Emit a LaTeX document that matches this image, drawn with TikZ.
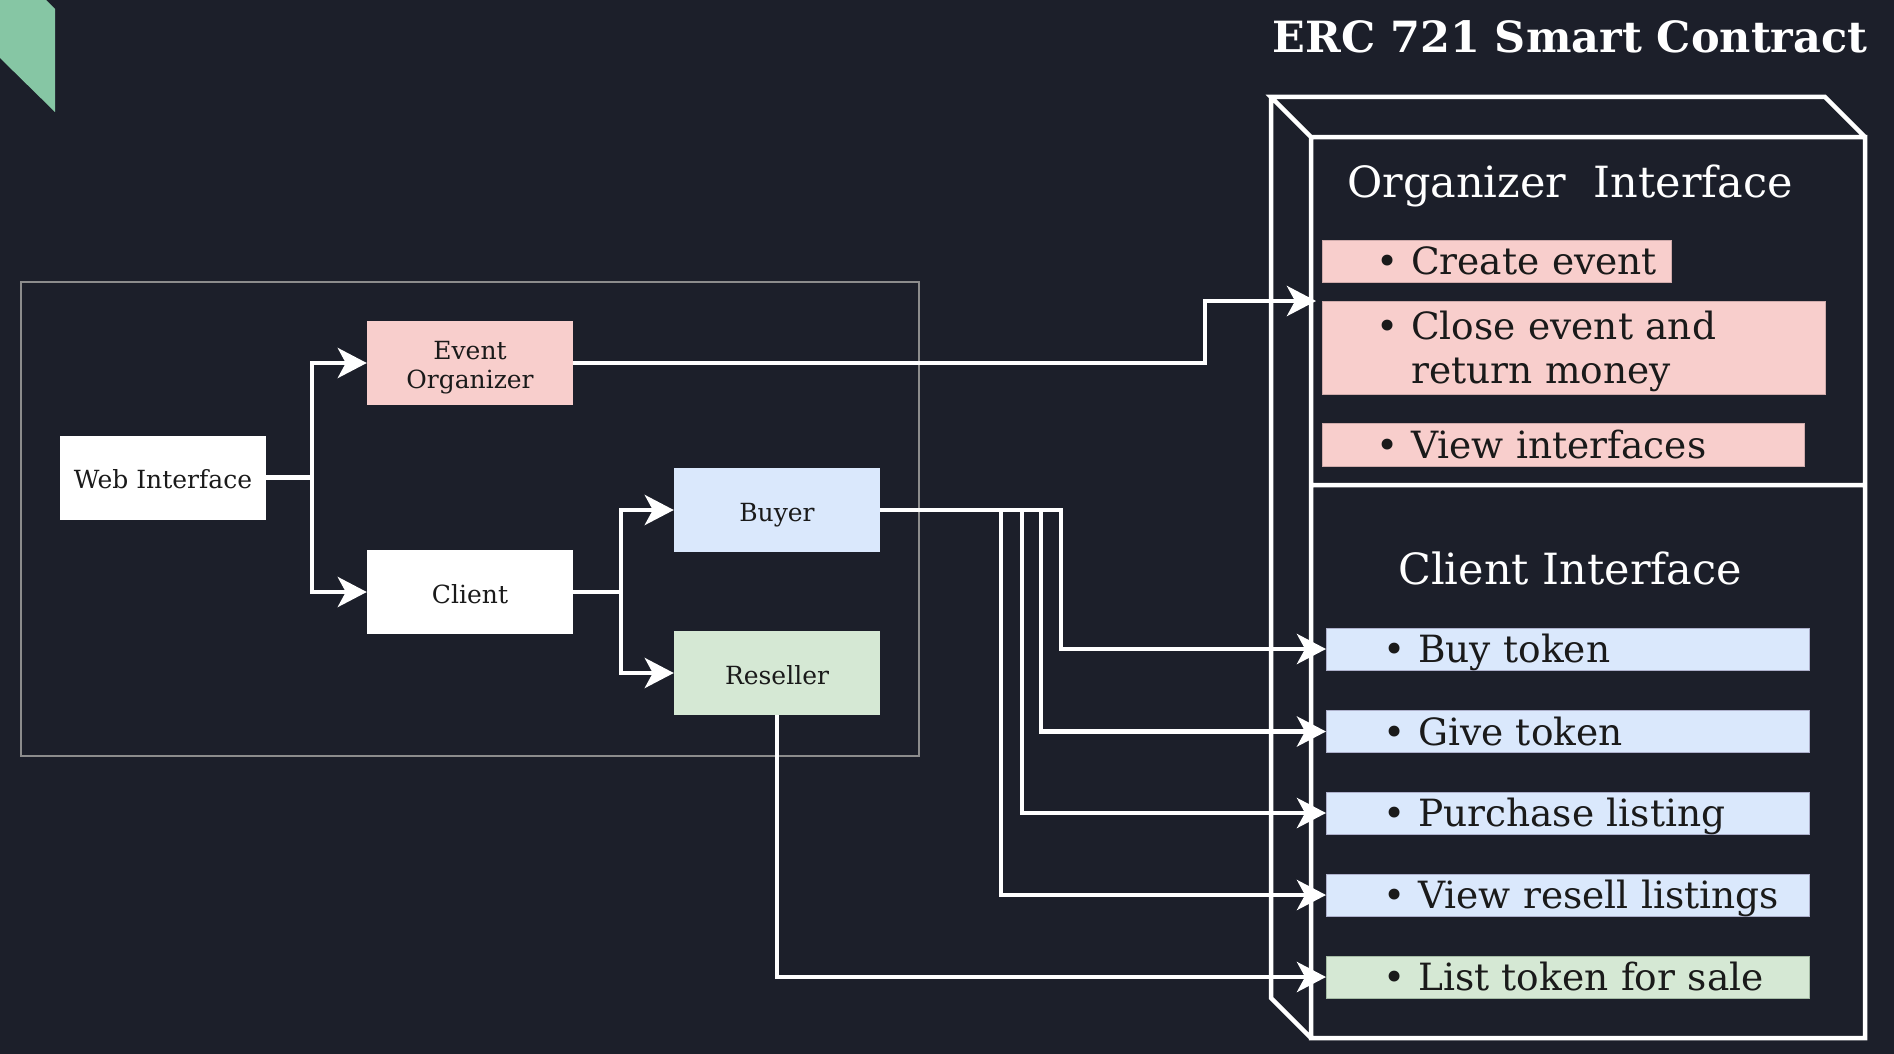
\documentclass[tikz,border=0pt]{standalone}
\usepackage{fontspec}
\setmainfont{DejaVu Serif}
\usetikzlibrary{arrows.meta}
\definecolor{bg}{HTML}{1C1F2A}
\definecolor{mint}{HTML}{86C6A4}
\definecolor{pinkfill}{HTML}{F8CECC}
\definecolor{bluefill}{HTML}{DAE8FC}
\definecolor{greenfill}{HTML}{D5E8D4}
\definecolor{ink}{HTML}{1A1A1A}
\definecolor{frame}{HTML}{8C8C8C}

\begin{document}
\begin{tikzpicture}[x=1pt,y=-1pt,node distance=307pt]
    \tikzstyle{box}=[
        fill=white,
        text=ink,
        minimum width=206pt,
        minimum height=84pt,
        inner sep=0pt,
        align=center,
        text height=22pt,
        text depth=0pt,
        font=\fontsize{25}{29}\selectfont]
    \tikzstyle{item}=[
        anchor=west,
        text=ink,
        align=left,
        inner sep=0pt,
        line width=1pt,
        minimum height=42pt,
        text height=27pt,
        text depth=0pt,
        font=\fontsize{37.5}{44.5}\selectfont]
    \tikzstyle{pinkitem}=[item, fill=pinkfill, draw=pinkfill!80!red!70!black!60,
        execute at begin node={\leftskip=54pt}]
    \tikzstyle{blueitem}=[item, fill=bluefill, draw=bluefill!70!blue!60!black!50,
        text width=483pt, execute at begin node={\leftskip=57pt}]
    \tikzstyle{heading}=[text=white, anchor=base, font=\fontsize{43}{50}\selectfont]
    \tikzstyle{flow}=[draw=white, line width=4.5pt,
        -{Stealth[length=29pt,width=30pt,inset=8pt]}]

    \fill[bg] (0,0) rectangle (1894,1054);
    \useasboundingbox (0,0) rectangle (1894,1054);
    \fill[mint] (0,0) -- (46,0) -- (55,9) -- (55,112) -- (0,58) -- cycle;
    \draw[frame, line width=1.5pt] (21,282) rectangle (919,756);

    \node[heading, font=\fontsize{43}{50}\selectfont\bfseries] (title) at (1570,53) {ERC 721 Smart Contract};
    \draw[white, line width=4.5pt, line join=miter] (1311,137) rectangle (1865,1038)
        (1311,137) -- (1271,97) -- (1825,97) -- (1865,137)
        (1271,97) -- (1271,998) -- (1311,1038)
        (1311,485) -- (1865,485);

    \node[heading] (orgtitle) at (1570,197) {Organizer\ \ Interface};
    \node[pinkitem, text width=349pt] (create) at (1322,261) {\textbullet\ Create event};
    \node[pinkitem, text width=503pt, minimum height=93pt, text height=, text depth=] (close) at (1322,347.5)
        {\rule{0pt}{36pt}\textbullet\ Close event and\\\hphantom{\textbullet\ }return money};
    \node[pinkitem, text width=482pt, minimum height=43pt] (viewint) at (1322,444.5) {\textbullet\ View interfaces};
    \coordinate (orgin) at (1316,301);

    \node[heading] (clititle) at (1570,584) {Client Interface};
    \node[blueitem] (buy) at (1326,649) {\textbullet\ Buy token};
    \node[blueitem] (give) at (1326,731.5) {\textbullet\ Give token};
    \node[blueitem] (purchase) at (1326,813) {\textbullet\ Purchase listing};
    \node[blueitem] (resell) at (1326,895) {\textbullet\ View resell listings};
    \node[blueitem, fill=greenfill, draw=greenfill!70!green!50!black!50] (list) at (1326,977) {\textbullet\ List token for sale};

    \node[box] (web) at (163,477.5) {Web Interface};
    \node[box, right of=web, yshift=114.5pt, fill=pinkfill, text height=, text depth=] (evorg) {\rule{0pt}{27pt}Event\\Organizer};
    \node[box, right of=web, yshift=-114.5pt] (client) {Client};
    \node[box, right of=client, yshift=82pt, fill=bluefill] (buyer) {Buyer};
    \node[box, right of=client, yshift=-81pt, fill=greenfill] (reseller) {Reseller};

    \draw[flow] (web.east) -- ++(46,0) |- (evorg.west);
    \draw[flow] (web.east) -- ++(46,0) |- (client.west);
    \draw[flow] (client.east) -- ++(48,0) |- (buyer.west);
    \draw[flow] (client.east) -- ++(48,0) |- (reseller.west);
    \draw[flow] (evorg.east) -- ++(632,0) |- (orgin);
    \draw[flow] (buyer.east) -- ++(181,0) |- (buy.west);
    \draw[flow] (buyer.east) -- ++(161,0) |- (give.west);
    \draw[flow] (buyer.east) -- ++(142,0) |- (purchase.west);
    \draw[flow] (buyer.east) -- ++(121,0) |- (resell.west);
    \draw[flow] (reseller.south) |- (list.west);
\end{tikzpicture}
\end{document}
